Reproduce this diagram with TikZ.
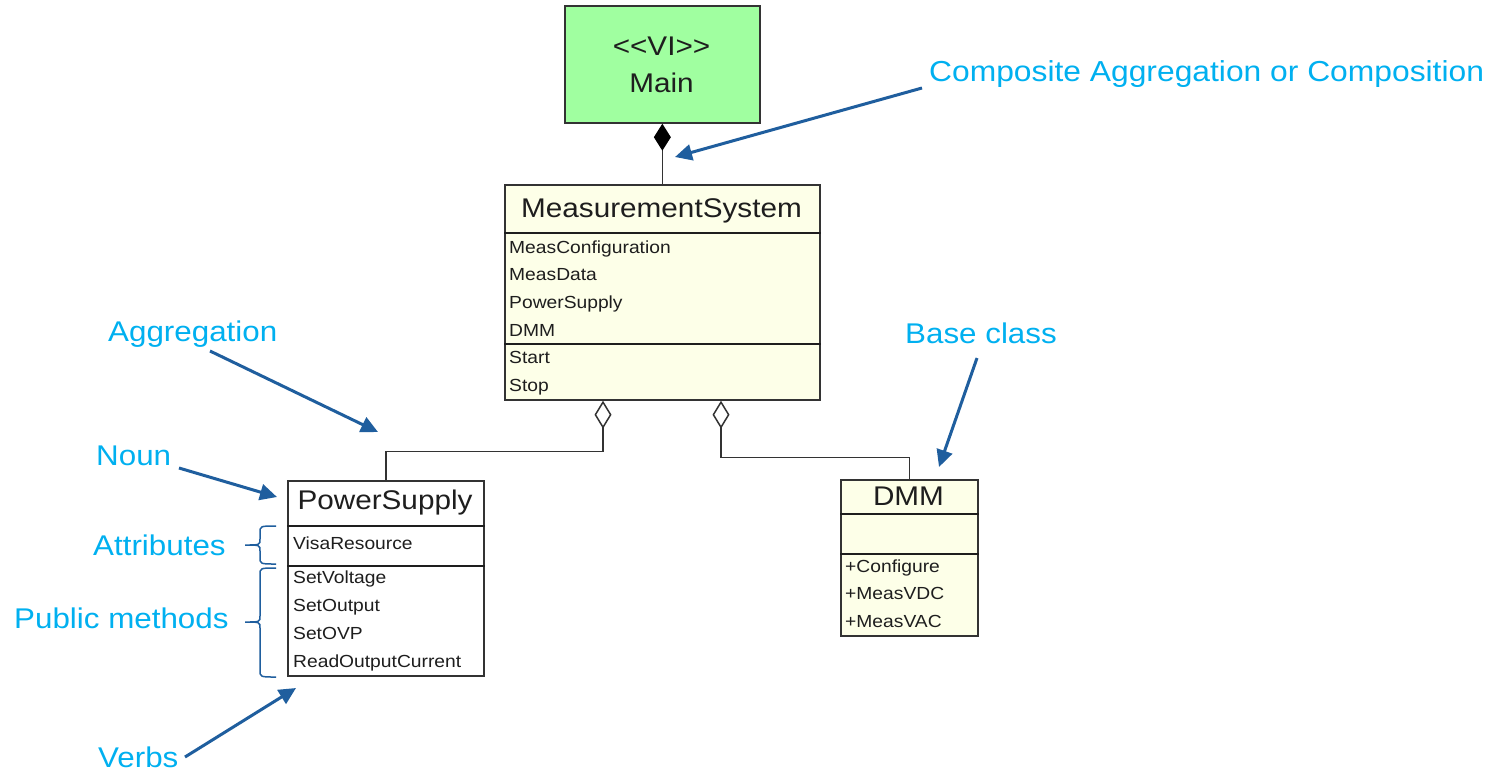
\documentclass[tikz,border=0pt]{standalone}
\usepackage{fontspec}
\setmainfont{Liberation Sans}[FakeStretch=1.1, Ligatures=TeXOff]
\usetikzlibrary{arrows.meta,calc}

\definecolor{mainGreen}{HTML}{A0FFA0}
\definecolor{classFill}{HTML}{FDFFE8}
\definecolor{noteCyan}{HTML}{00B0F0}
\definecolor{noteBlue}{HTML}{1F5E9E}
\definecolor{umlInk}{HTML}{1E1E1E}
\definecolor{umlLine}{HTML}{333333}

\begin{document}
\begin{tikzpicture}[x=1pt,y=-1pt,
  classbox/.style={draw=umlLine, line width=1.7pt, anchor=north west, inner sep=0pt},
  divider/.style={draw=umlInk, line width=2.6pt},
  headtxt/.style={anchor=base, inner sep=0pt, text=umlInk, font=\fontsize{27}{30}\selectfont},
  rowtxt/.style={anchor=base west, inner sep=0pt, text=umlInk, font=\fontsize{17.5}{20}\selectfont},
  note/.style={anchor=base west, inner sep=0pt, text=noteCyan, font=\fontsize{28.5}{32}\selectfont},
  callout/.style={draw=noteBlue, line width=3pt, -{Triangle[length=17pt,width=16pt]}},
  bracket/.style={draw=noteBlue, line width=1.5pt},
  assoc/.style={draw=umlLine, line width=1.5pt},
]
% canvas
\fill[white] (0,0) rectangle (1493,772);
\useasboundingbox (0,0) rectangle (1493,772);

% ---- <<VI>> Main ----
\node[classbox, fill=mainGreen, minimum width=195pt, minimum height=117pt] (main) at (564,5) {};
\node[headtxt] (mainStereo) at (661.5,55) {<{}<VI>{}>};
\node[headtxt] (mainName) at (661.5,92) {Main};

% ---- MeasurementSystem ----
\node[classbox, fill=classFill, minimum width=315pt, minimum height=215pt] (ms) at (504,184) {};
\node[headtxt] (msName) at (661.5,217) {MeasurementSystem};
\draw[divider] ($(ms.north west)+(0,49)$) -- ($(ms.north east)+(0,49)$);
\draw[divider] ($(ms.north west)+(0,160)$) -- ($(ms.north east)+(0,160)$);
\node[rowtxt] (msA1) at (509,253) {MeasConfiguration};
\node[rowtxt] (msA2) at (509,280) {MeasData};
\node[rowtxt] (msA3) at (509,308) {PowerSupply};
\node[rowtxt] (msA4) at (509,336) {DMM};
\node[rowtxt] (msM1) at (509,363) {Start};
\node[rowtxt] (msM2) at (509,391) {Stop};

% ---- PowerSupply ----
\node[classbox, fill=white, minimum width=196pt, minimum height=195pt] (ps) at (287,480) {};
\node[headtxt] (psName) at (385,509) {PowerSupply};
\draw[divider] ($(ps.north west)+(0,46)$) -- ($(ps.north east)+(0,46)$);
\draw[divider] ($(ps.north west)+(0,86)$) -- ($(ps.north east)+(0,86)$);
\node[rowtxt] (psA1) at (293,549) {VisaResource};
\node[rowtxt] (psM1) at (293,583) {SetVoltage};
\node[rowtxt] (psM2) at (293,611) {SetOutput};
\node[rowtxt] (psM3) at (293,639) {SetOVP};
\node[rowtxt] (psM4) at (293,667) {ReadOutputCurrent};

% ---- DMM ----
\node[classbox, fill=classFill, minimum width=137pt, minimum height=156pt] (dmm) at (840,479) {};
\node[headtxt] (dmmName) at (908.5,505) {DMM};
\draw[divider] ($(dmm.north west)+(0,35)$) -- ($(dmm.north east)+(0,35)$);
\draw[divider] ($(dmm.north west)+(0,75)$) -- ($(dmm.north east)+(0,75)$);
\node[rowtxt] (dmmM1) at (845,572) {+Configure};
\node[rowtxt] (dmmM2) at (845,599) {+MeasVDC};
\node[rowtxt] (dmmM3) at (845,627) {+MeasVAC};

% ---- associations ----
\draw[assoc, {Diamond[length=27pt,width=17pt,fill=black,color=black]}-] (main.south) -- (ms.north);
\draw[assoc, {Diamond[open,length=28pt,width=17pt]}-] ($(ms.south west)+(99,0)$) -- ++(0,51) -| (ps.north);
\draw[assoc, {Diamond[open,length=28pt,width=17pt]}-] ($(ms.south west)+(217,0)$) -- ++(0,57) -| (dmm.north);

% ---- annotations ----
\node[note, font=\fontsize{28.9}{32}\selectfont] (lblComp) at (929,81) {Composite Aggregation or Composition};
\node[note] (lblAgg) at (108,341) {Aggregation};
\node[note] (lblBase) at (905,343) {Base class};
\node[note] (lblNoun) at (96,465) {Noun};
\node[note] (lblAttr) at (93,555) {Attributes};
\node[note] (lblPub) at (14,628) {Public methods};
\node[note] (lblVerb) at (98,767) {Verbs};

\coordinate (compFrom) at (922,88);  \coordinate (compTo) at (675,157);
\coordinate (aggFrom) at (210,351);  \coordinate (aggTo) at (378,432);
\coordinate (baseFrom) at (977,358); \coordinate (baseTo) at (939,467);
\coordinate (nounFrom) at (179,468); \coordinate (nounTo) at (277,497);
\coordinate (verbFrom) at (185,757); \coordinate (verbTo) at (296,688);

\draw[callout] (compFrom) -- (compTo);
\draw[callout] (aggFrom) -- (aggTo);
\draw[callout] (baseFrom) -- (baseTo);
\draw[callout] (nounFrom) -- (nounTo);
\draw[callout] (verbFrom) -- (verbTo);

% braces beside the PowerSupply compartments
\draw[bracket] (276,526) .. controls (260,526) .. (260,533) -- (260,539)
  .. controls (260,545) .. (245,545) .. controls (260,545) .. (260,551)
  -- (260,557) .. controls (260,564) .. (276,564);
\draw[bracket] (276,568) .. controls (260,568) .. (260,575) -- (260,616)
  .. controls (260,622) .. (245,622) .. controls (260,622) .. (260,628)
  -- (260,670) .. controls (260,677) .. (276,677);
\end{tikzpicture}
\end{document}
